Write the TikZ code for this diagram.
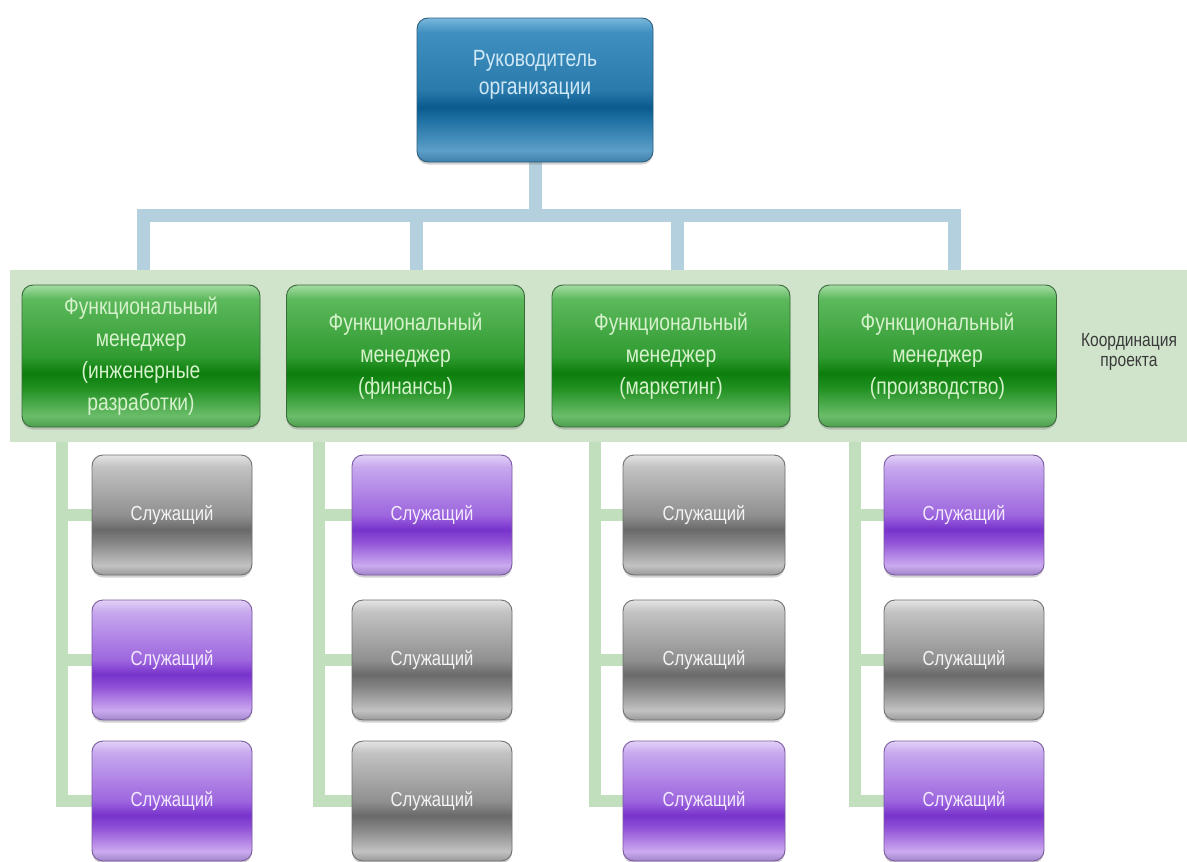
\documentclass[tikz,border=0pt]{standalone}
\usepackage{fontspec}
\setmainfont{Liberation Sans}[FakeStretch=0.82]
\usetikzlibrary{shadows}

% glossy palettes: top ... bottom
\definecolor{g0}{HTML}{A4DCA4}\definecolor{g1}{HTML}{5CB85C}\definecolor{g2}{HTML}{319C31}
\definecolor{g3}{HTML}{0C7E0C}\definecolor{g4}{HTML}{1F8F1F}\definecolor{g5}{HTML}{6ABD6A}
\definecolor{g6}{HTML}{4E9E4E}
\definecolor{b0}{HTML}{7AB8DC}\definecolor{b1}{HTML}{3F8FC0}\definecolor{b2}{HTML}{2A7AAC}
\definecolor{b3}{HTML}{0A5A8E}\definecolor{b4}{HTML}{2274A6}\definecolor{b5}{HTML}{5C9FC8}
\definecolor{b6}{HTML}{3F7FA8}
\definecolor{k0}{HTML}{E4E4E4}\definecolor{k1}{HTML}{C2C2C2}\definecolor{k2}{HTML}{909090}
\definecolor{k3}{HTML}{6A6A6A}\definecolor{k4}{HTML}{838383}\definecolor{k5}{HTML}{C2C2C2}
\definecolor{k6}{HTML}{989898}
\definecolor{p0}{HTML}{E2D2F6}\definecolor{p1}{HTML}{C7A8EE}\definecolor{p2}{HTML}{9D66DE}
\definecolor{p3}{HTML}{7833CC}\definecolor{p4}{HTML}{9050D6}\definecolor{p5}{HTML}{CBAAF0}
\definecolor{p6}{HTML}{A084C8}

\definecolor{bandgreen}{HTML}{CFE4CB}
\definecolor{linkgreen}{HTML}{C1DEBD}
\definecolor{linkblue}{HTML}{B4CFDD}
\definecolor{headedge}{HTML}{2E5F7E}
\definecolor{mgredge}{HTML}{3A6A3A}
\definecolor{grayedge}{HTML}{707070}
\definecolor{purpedge}{HTML}{7A5AA0}
\definecolor{headtxt}{HTML}{CFE8F6}
\definecolor{mgrtxt}{HTML}{D6F2CC}
\definecolor{graytxt}{HTML}{F4F4F4}
\definecolor{purptxt}{HTML}{F3EAFF}
\definecolor{notetxt}{HTML}{3A3A3A}

% 25bp = bottom edge, 75bp = top edge of the shaded box
\pgfdeclareverticalshading{glossgreen}{100bp}{color(0bp)=(g6); color(25bp)=(g6); color(29bp)=(g5); color(39bp)=(g4); color(44bp)=(g3); color(50bp)=(g2); color(70bp)=(g1); color(75bp)=(g0); color(100bp)=(g0)}
\pgfdeclareverticalshading{glossblue}{100bp}{color(0bp)=(b6); color(25bp)=(b6); color(29bp)=(b5); color(39bp)=(b4); color(44bp)=(b3); color(50bp)=(b2); color(70bp)=(b1); color(75bp)=(b0); color(100bp)=(b0)}
\pgfdeclareverticalshading{glossgray}{100bp}{color(0bp)=(k6); color(25bp)=(k6); color(29bp)=(k5); color(39bp)=(k4); color(44bp)=(k3); color(50bp)=(k2); color(70bp)=(k1); color(75bp)=(k0); color(100bp)=(k0)}
\pgfdeclareverticalshading{glosspurple}{100bp}{color(0bp)=(p6); color(25bp)=(p6); color(29bp)=(p5); color(39bp)=(p4); color(44bp)=(p3); color(50bp)=(p2); color(70bp)=(p1); color(75bp)=(p0); color(100bp)=(p0)}

\pgfdeclarelayer{bandlayer}
\pgfdeclarelayer{links}
\pgfsetlayers{bandlayer,links,main}

\tikzset{
  box/.style={rounded corners=11pt, inner sep=0pt, align=center, line width=0.9pt,
    drop shadow={opacity=0.35, shadow xshift=0pt, shadow yshift=-2.5pt}},
  headbox/.style={box, shading=glossblue, draw=headedge,
    minimum width=236pt, minimum height=144pt},
  headtext/.style={text=headtxt, align=center, font=\fontsize{23.5}{28}\selectfont},
  mgrbox/.style={box, shading=glossgreen, draw=mgredge, text=mgrtxt,
    minimum width=238pt, minimum height=142pt, font=\fontsize{23.5}{32}\selectfont},
  empbox/.style={box, minimum width=160pt, minimum height=120pt,
    font=\fontsize{20.3}{22}\selectfont},
  grayemp/.style={empbox, shading=glossgray, draw=grayedge, text=graytxt},
  purpemp/.style={empbox, shading=glosspurple, draw=purpedge, text=purptxt},
  note/.style={text=notetxt, align=center, font=\fontsize{19}{20}\selectfont},
  blueline/.style={draw=linkblue, line width=13pt, line join=miter},
  greenline/.style={draw=linkgreen, line width=12pt, line join=miter},
}

\begin{document}
\begin{tikzpicture}[x=1pt,y=-1pt]
\useasboundingbox (0,0) rectangle (1187,862);

\begin{pgfonlayer}{bandlayer}
  \fill[white] (0,0) rectangle (1187,862);
  \node[fill=bandgreen, inner sep=0pt, minimum width=1177pt, minimum height=172pt,
        anchor=north west] (band) at (10,270) {};
\end{pgfonlayer}

% head of the organisation
\node[headbox] (head) at (535,90) {};
\node[headtext] (headlabel) at ([yshift=15pt]head.center) {Руководитель\\организации};

% functional managers
\node[mgrbox] (m1) at (141,356)   {Функциональный\\менеджер\\(инженерные\\разработки)};
\node[mgrbox] (m2) at (405.5,356) {Функциональный\\менеджер\\(финансы)};
\node[mgrbox] (m3) at (671,356)   {Функциональный\\менеджер\\(маркетинг)};
\node[mgrbox] (m4) at (937.5,356) {Функциональный\\менеджер\\(производство)};

\node[note] (coord) at (1129,352) {Координация\\проекта};

% staff
\node[grayemp] (e11) at (172,515) {Служащий};
\node[purpemp] (e12) at (172,660) {Служащий};
\node[purpemp] (e13) at (172,801) {Служащий};

\node[purpemp] (e21) at (432,515) {Служащий};
\node[grayemp] (e22) at (432,660) {Служащий};
\node[grayemp] (e23) at (432,801) {Служащий};

\node[grayemp, minimum width=162pt] (e31) at (704,515) {Служащий};
\node[grayemp, minimum width=162pt] (e32) at (704,660) {Служащий};
\node[purpemp, minimum width=162pt] (e33) at (704,801) {Служащий};

\node[purpemp] (e41) at (964,515) {Служащий};
\node[grayemp] (e42) at (964,660) {Служащий};
\node[purpemp] (e43) at (964,801) {Служащий};

% junction points of the connector trees
\coordinate (j1) at (143,215);
\coordinate (j2) at (416,215);
\coordinate (j3) at (677,215);
\coordinate (j4) at (954,215);
\coordinate (v1) at (62,600);
\coordinate (v2) at (319,600);
\coordinate (v3) at (595,600);
\coordinate (v4) at (855,600);

\begin{pgfonlayer}{links}
  % head to managers
  \draw[blueline] (head.south) -- (head.south |- j1);
  \draw[blueline] (j1 |- band.north) -- (j1) -- (j4) -- (j4 |- band.north);
  \draw[blueline] (j2) -- (j2 |- band.north);
  \draw[blueline] (j3) -- (j3 |- band.north);
  % managers to staff
  \foreach \c in {1,2,3,4}{
    \draw[greenline] (v\c |- band.south) -- (v\c |- e\c3.west) -- (e\c3.west);
    \draw[greenline] (v\c |- e\c1.west) -- (e\c1.west);
    \draw[greenline] (v\c |- e\c2.west) -- (e\c2.west);
  }
\end{pgfonlayer}
\end{tikzpicture}
\end{document}
